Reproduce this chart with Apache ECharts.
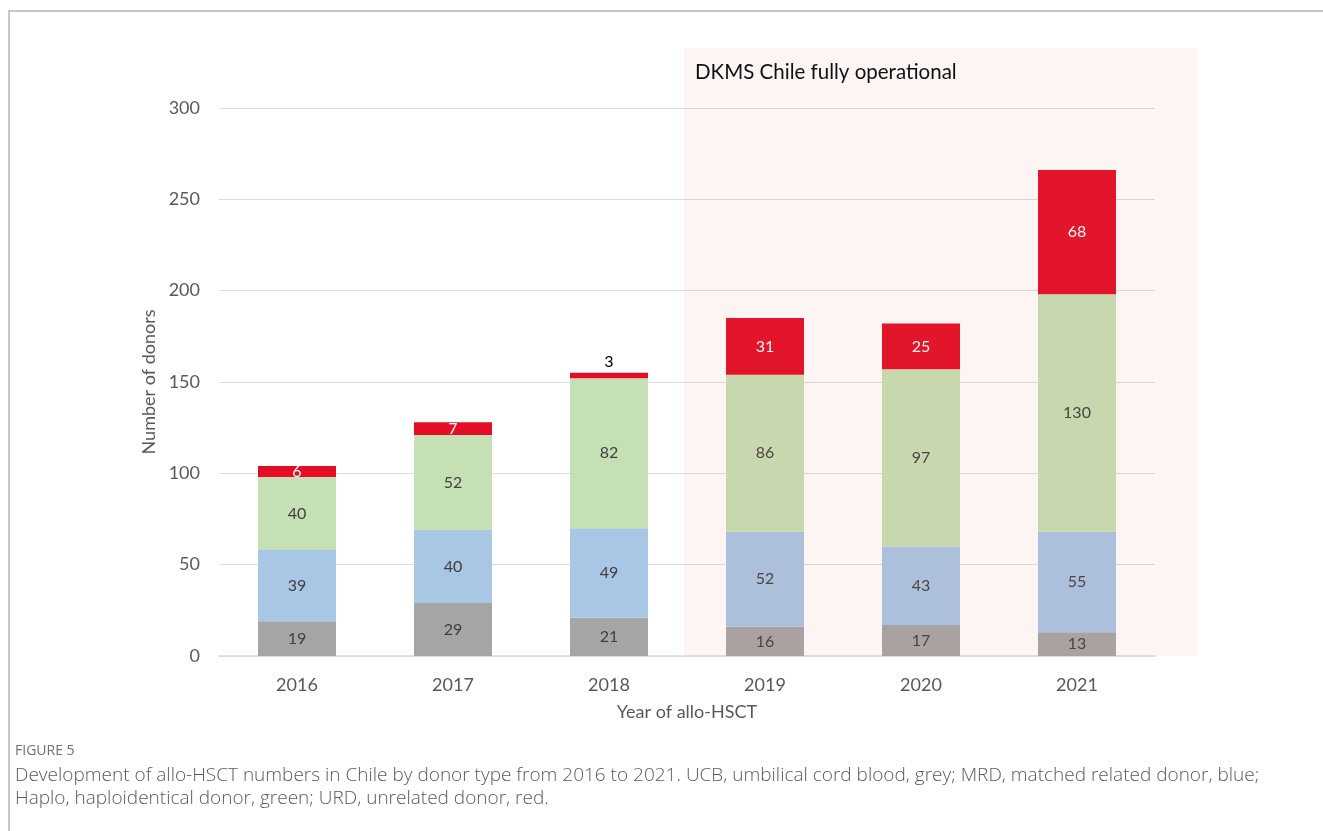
<!DOCTYPE html>
<html>
<head>
<meta charset="utf-8">
<script src="https://cdn.jsdelivr.net/npm/echarts@6/dist/echarts.min.js"></script>
<style>
  html, body { margin: 0; padding: 0; background: #fff; }
  #chart { width: 1323px; height: 831px; }
</style>
</head>
<body>
<div id="chart"></div>
<script>
// years and donor counts per type
var years = ["2016", "2017", "2018", "2019", "2020", "2021"];
var ucb = [19, 29, 21, 16, 17, 13];
var mrd = [39, 40, 49, 52, 43, 55];
var haplo = [40, 52, 82, 86, 97, 130];
var urd = [6, 7, 3, 31, 25, 68];
var yTicks = [0, 50, 100, 150, 200, 250, 300];

var font = "Lato";
var chart = echarts.init(document.getElementById("chart"));

// one stacked bar series per donor type
function makeSeries(name, data, color, labelColor) {
  return {
    name: name,
    type: "bar",
    stack: "total",
    barWidth: "50%",
    data: data.map(function (v) {
      var item = { value: v };
      // tiny segment -> label above the bar
      if (v < 5) {
        item.label = { position: "top", color: "#000", distance: 3 };
      }
      return item;
    }),
    itemStyle: { color: color },
    label: {
      show: true,
      position: "inside",
      color: labelColor,
      fontFamily: font,
      fontSize: 16
    }
  };
}

var option = {
  backgroundColor: "#fff",
  animation: false,
  grid: { left: 219, right: 168, top: 108, bottom: 175 },
  xAxis: {
    type: "category",
    data: years,
    axisTick: { show: false },
    axisLine: { lineStyle: { color: "#d9d9d9", width: 1.5 } },
    axisLabel: { color: "#595959", fontFamily: font, fontSize: 18, margin: 20 },
    name: "Year of allo-HSCT",
    nameLocation: "middle",
    nameGap: 47,
    nameTextStyle: { color: "#595959", fontFamily: font, fontSize: 18 }
  },
  yAxis: {
    type: "value",
    min: yTicks[0],
    max: yTicks[yTicks.length - 1],
    interval: 50,
    axisLabel: { color: "#595959", fontFamily: font, fontSize: 18, margin: 19 },
    axisLine: { show: false },
    axisTick: { show: false },
    splitLine: { lineStyle: { color: "#dcdcdc", width: 1.2 } },
    name: "Number of donors",
    nameLocation: "middle",
    nameGap: 50,
    nameTextStyle: { color: "#595959", fontFamily: font, fontSize: 18 }
  },
  series: [
    makeSeries("UCB", ucb, "#a5a5a5", "#404040"),
    makeSeries("MRD", mrd, "#a8c7e4", "#404040"),
    makeSeries("Haplo", haplo, "#c5e0b4", "#404040"),
    makeSeries("URD", urd, "#e30e25", "#ffffff")
  ],
  graphic: [
    // figure frame
    {
      type: "rect",
      shape: { x: 9, y: 11, width: 1330, height: 840 },
      style: { fill: null, stroke: "#b5b5b5", lineWidth: 1.5 },
      z: 0
    },
    // shaded period
    {
      type: "rect",
      shape: { x: 684, y: 48, width: 513, height: 608 },
      style: { fill: "rgba(230,120,120,0.08)" },
      z: 100
    },
    {
      type: "text",
      left: 695,
      top: 62,
      style: { text: "DKMS Chile fully operational", fill: "#111", font: "20.5px Lato" },
      z: 101
    },
    {
      type: "text",
      left: 15,
      top: 744,
      style: { text: "FIGURE 5", fill: "#707070", font: "14px 'Open Sans'" }
    },
    {
      type: "text",
      left: 15,
      top: 764,
      style: {
        text: "Development of allo-HSCT numbers in Chile by donor type from 2016 to 2021. UCB, umbilical cord blood, grey; MRD, matched related donor, blue;\nHaplo, haploidentical donor, green; URD, unrelated donor, red.",
        fill: "#5a5a5a",
        font: "300 19px 'Open Sans'",
        lineHeight: 23
      }
    }
  ]
};

chart.setOption(option);
</script>
</body>
</html>
